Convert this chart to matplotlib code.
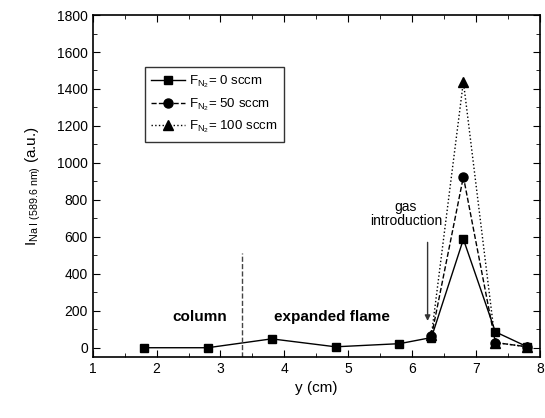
import matplotlib
matplotlib.use("Agg")
import matplotlib.pyplot as plt
from matplotlib.ticker import MultipleLocator

plt.rcParams['font.family'] = ['Liberation Sans', 'DejaVu Sans']
plt.rcParams['mathtext.fontset'] = 'custom'
plt.rcParams['mathtext.rm'] = 'Liberation Sans'
plt.rcParams['mathtext.it'] = 'Liberation Sans'
plt.rcParams['mathtext.bf'] = 'Liberation Sans:bold'

# Data
y_all = [1.8, 2.8, 3.8, 4.8, 5.8, 6.3, 6.8, 7.3, 7.8]
i_0sccm = [0, 0, 48, 5, 22, 55, 587, 86, 5]
y_gas = [6.3, 6.8, 7.3, 7.8]
i_50sccm = [62, 925, 28, 5]
i_100sccm = [68, 1440, 28, 5]
labels = [r'F$_{\mathregular{N_2}}$= 0 sccm',
          r'F$_{\mathregular{N_2}}$= 50 sccm',
          r'F$_{\mathregular{N_2}}$= 100 sccm']

fig = plt.figure(figsize=(5.45, 4.18), dpi=100)
ax = fig.add_axes([0.17, 0.146, 0.821, 0.818])

ax.plot(y_all, i_0sccm, '-', color='black', marker='s', ms=6, lw=1.0, label=labels[0])
ax.plot(y_gas, i_50sccm, '--', color='black', marker='o', ms=6.5, lw=1.0, label=labels[1])
ax.plot(y_gas, i_100sccm, ':', color='black', marker='^', ms=7, lw=1.0, label=labels[2])

ax.set_xlim(1, 8)
ax.set_ylim(-50, 1800)
ax.xaxis.set_major_locator(MultipleLocator(1))
ax.xaxis.set_minor_locator(MultipleLocator(0.5))
ax.yaxis.set_major_locator(MultipleLocator(200))
ax.yaxis.set_minor_locator(MultipleLocator(100))
ax.tick_params(which='both', direction='in', top=True, right=True, labelsize=10)
ax.tick_params(which='major', length=5)
ax.tick_params(which='minor', length=3)
for s in ax.spines.values():
    s.set_linewidth(1.2)

ax.set_xlabel('y (cm)', fontsize=11)
ax.set_ylabel(r'I$_{\mathregular{Na\ I\ (589.6\ nm)}}$ (a.u.)', fontsize=11, labelpad=10)

# Annotations
ax.plot([3.34, 3.34], [-50, 510], '--', color='#444444', lw=1.0)
ax.text(2.68, 165, 'column', fontsize=11, fontweight='bold', ha='center', va='center')
ax.text(4.75, 165, 'expanded flame', fontsize=11, fontweight='bold', ha='center', va='center')
ax.text(5.9, 725, 'gas\nintroduction', fontsize=10, ha='center', va='center', linespacing=1.0)
ax.annotate('', xy=(6.24, 130), xytext=(6.24, 585),
            arrowprops=dict(arrowstyle='-|>', color='#333333', lw=1.0, mutation_scale=8))

leg = ax.legend(loc='upper left', bbox_to_anchor=(0.116, 0.848), frameon=True, fancybox=False,
                edgecolor='black', fontsize=9.5, handlelength=2.6, borderpad=0.5,
                labelspacing=0.45, handletextpad=0.3, borderaxespad=0)
leg.get_frame().set_linewidth(1.0)

fig.savefig('out.png', dpi=100)
